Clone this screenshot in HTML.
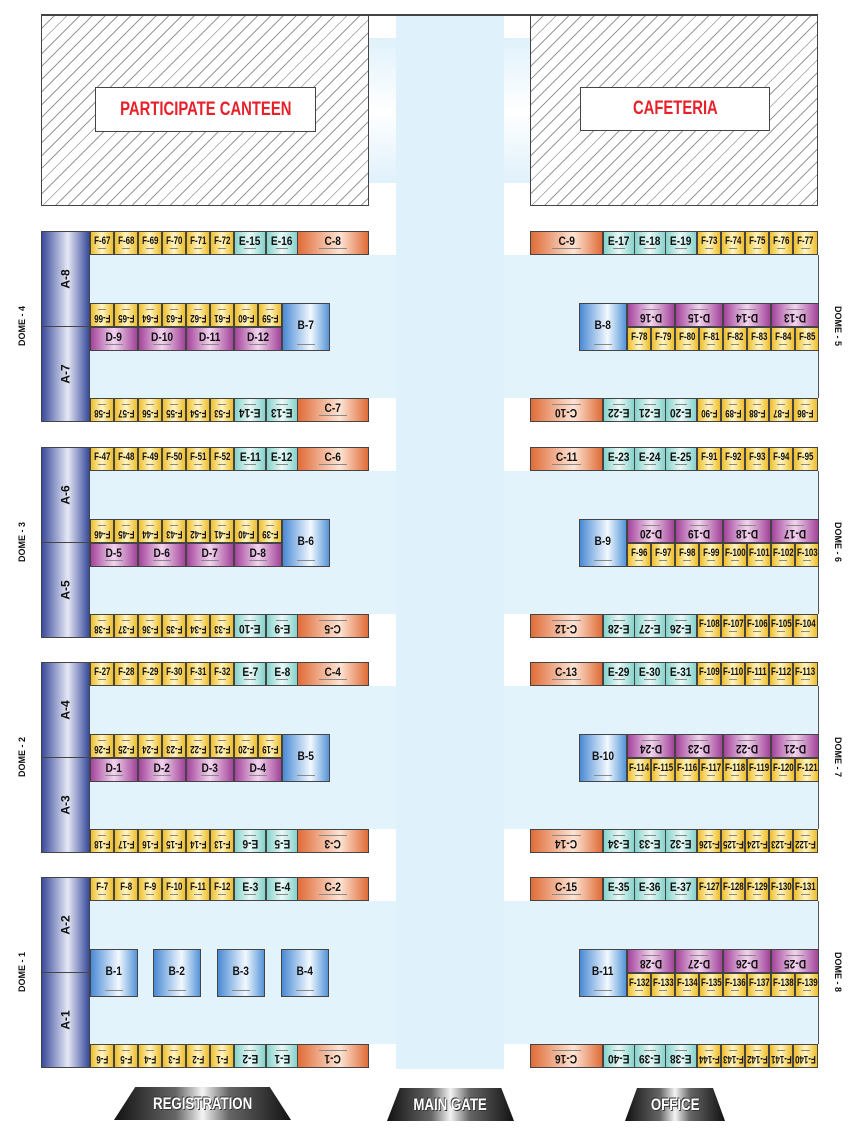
<!DOCTYPE html>
<html><head><meta charset="utf-8"><style>
*{margin:0;padding:0}
body{width:861px;height:1137px;background:#fff;position:relative;overflow:hidden;font-family:"Liberation Sans",sans-serif}
.abs{position:absolute}
.hatch{position:absolute;box-sizing:border-box;border:1.5px solid #444;background:repeating-linear-gradient(135deg,#fff 0 8px,#999 8px 9px)}
.lbl{position:absolute;box-sizing:border-box;border:1.5px solid #444;background:#fff;color:#e8202a;font-weight:bold;font-size:19px;display:flex;align-items:center;justify-content:center}
.lbl span{display:inline-block;transform:scaleX(.78);white-space:nowrap}
.d{position:absolute;width:330px;height:192px}
.band{position:absolute;top:24px;height:143px;background:#e2f3fb}
.c{position:absolute;box-sizing:border-box;border:1px solid #444;display:flex;align-items:center;justify-content:center;font-weight:bold;font-size:12px;color:#111;overflow:hidden;white-space:nowrap;padding-bottom:5px}
.c::after{content:"";position:absolute;left:30%;right:30%;bottom:5px;height:1px;background:#888}
.c span{display:inline-block;transform:scaleX(.85)}
.r{padding-bottom:0;padding-top:5px}
.r::after{bottom:auto;top:5px}
.r span{transform:rotate(180deg) scaleX(.85)}
.F{width:24px;background:linear-gradient(90deg,#eebd2a,#fff5c4 50%,#eebd2a);font-size:11px}
.F span{transform:scaleX(.72)}
.F.r span{transform:rotate(180deg) scaleX(.72)}
.E{width:32px;background:linear-gradient(90deg,#86d2cb,#eaf9f7 50%,#86d2cb)}
.C{width:73px;background:linear-gradient(90deg,#e06c38,#fde4d4 60%,#e06c38)}
.D{width:48px;background:linear-gradient(90deg,#a3449a,#f2d4ee 50%,#a3449a)}
.B{width:48px;height:48px;top:72px;background:linear-gradient(90deg,#4a8ad4,#f2f9ff 60%,#5595d8);font-size:12px}
.A{left:0;width:49px;height:96px;background:linear-gradient(90deg,#3a4c9c,#e6e8f5 55%,#3a4c9c);font-size:12px;padding:0}
.A::after{display:none}
.A span{transform:rotate(-90deg)}
.t{top:0;height:24px}.m1{top:72px;height:24px}.m2{top:96px;height:24px}.bt{top:167px;height:24px}
.dl{position:absolute;font-weight:bold;font-size:9px;width:60px;text-align:center;color:#111}
.trap{position:absolute;height:33px;background:linear-gradient(90deg,#111,#666 35%,#f4f4f4 50%,#666 65%,#111);color:#fff;font-weight:bold;font-size:17px;display:flex;align-items:center;justify-content:center;text-shadow:1px 1px 0 #333,-1px -1px 0 #333}
.trap span{display:inline-block;transform:scaleX(.78);white-space:nowrap}
</style></head><body>

<div class="abs" style="left:369px;top:38px;width:161px;height:145px;background:linear-gradient(#dff1fb,#fff 50%,#dff1fb)"></div>
<div class="abs" style="left:396px;top:15px;width:108px;height:1054px;background:#dff1fb"></div>
<div class="abs" style="left:41px;top:14px;width:777px;height:1.5px;background:#444"></div>

<div class="hatch" style="left:41px;top:15px;width:328px;height:191px"></div>
<div class="lbl" style="left:95px;top:87px;width:221px;height:45px"><span>PARTICIPATE CANTEEN</span></div>
<div class="hatch" style="left:530px;top:15px;width:288px;height:191px"></div>
<div class="lbl" style="left:580px;top:87px;width:190px;height:44px"><span>CAFETERIA</span></div>

<!-- DOME 4 -->
<div class="d" style="left:41px;top:231px">
<div class="band" style="left:49px;width:306px"></div>
<div class="c A" style="top:0"><span>A-8</span></div><div class="c A" style="top:95px"><span>A-7</span></div>
<div class="c F t" style="left:49px"><span>F-67</span></div><div class="c F t" style="left:73px"><span>F-68</span></div><div class="c F t" style="left:97px"><span>F-69</span></div><div class="c F t" style="left:121px"><span>F-70</span></div><div class="c F t" style="left:145px"><span>F-71</span></div><div class="c F t" style="left:169px"><span>F-72</span></div><div class="c E t" style="left:193px"><span>E-15</span></div><div class="c E t" style="left:225px"><span>E-16</span></div><div class="c C t" style="left:256px;width:72px"><span>C-8</span></div>
<div class="c F m1 r" style="left:49px"><span>F-66</span></div><div class="c F m1 r" style="left:73px"><span>F-65</span></div><div class="c F m1 r" style="left:97px"><span>F-64</span></div><div class="c F m1 r" style="left:121px"><span>F-63</span></div><div class="c F m1 r" style="left:145px"><span>F-62</span></div><div class="c F m1 r" style="left:169px"><span>F-61</span></div><div class="c F m1 r" style="left:193px"><span>F-60</span></div><div class="c F m1 r" style="left:217px"><span>F-59</span></div>
<div class="c D m2" style="left:49px"><span>D-9</span></div><div class="c D m2" style="left:97px"><span>D-10</span></div><div class="c D m2" style="left:145px"><span>D-11</span></div><div class="c D m2" style="left:193px"><span>D-12</span></div>
<div class="c B" style="left:241px"><span>B-7</span></div>
<div class="c F bt r" style="left:49px"><span>F-58</span></div><div class="c F bt r" style="left:73px"><span>F-57</span></div><div class="c F bt r" style="left:97px"><span>F-56</span></div><div class="c F bt r" style="left:121px"><span>F-55</span></div><div class="c F bt r" style="left:145px"><span>F-54</span></div><div class="c F bt r" style="left:169px"><span>F-53</span></div><div class="c E bt r" style="left:193px"><span>E-14</span></div><div class="c E bt r" style="left:225px"><span>E-13</span></div><div class="c C bt" style="left:256px;width:72px"><span>C-7</span></div>
</div>

<!-- DOME 3 -->
<div class="d" style="left:41px;top:447px">
<div class="band" style="left:49px;width:306px"></div>
<div class="c A" style="top:0"><span>A-6</span></div><div class="c A" style="top:95px"><span>A-5</span></div>
<div class="c F t" style="left:49px"><span>F-47</span></div><div class="c F t" style="left:73px"><span>F-48</span></div><div class="c F t" style="left:97px"><span>F-49</span></div><div class="c F t" style="left:121px"><span>F-50</span></div><div class="c F t" style="left:145px"><span>F-51</span></div><div class="c F t" style="left:169px"><span>F-52</span></div><div class="c E t" style="left:193px"><span>E-11</span></div><div class="c E t" style="left:225px"><span>E-12</span></div><div class="c C t" style="left:256px;width:72px"><span>C-6</span></div>
<div class="c F m1 r" style="left:49px"><span>F-46</span></div><div class="c F m1 r" style="left:73px"><span>F-45</span></div><div class="c F m1 r" style="left:97px"><span>F-44</span></div><div class="c F m1 r" style="left:121px"><span>F-43</span></div><div class="c F m1 r" style="left:145px"><span>F-42</span></div><div class="c F m1 r" style="left:169px"><span>F-41</span></div><div class="c F m1 r" style="left:193px"><span>F-40</span></div><div class="c F m1 r" style="left:217px"><span>F-39</span></div>
<div class="c D m2" style="left:49px"><span>D-5</span></div><div class="c D m2" style="left:97px"><span>D-6</span></div><div class="c D m2" style="left:145px"><span>D-7</span></div><div class="c D m2" style="left:193px"><span>D-8</span></div>
<div class="c B" style="left:241px"><span>B-6</span></div>
<div class="c F bt r" style="left:49px"><span>F-38</span></div><div class="c F bt r" style="left:73px"><span>F-37</span></div><div class="c F bt r" style="left:97px"><span>F-36</span></div><div class="c F bt r" style="left:121px"><span>F-35</span></div><div class="c F bt r" style="left:145px"><span>F-34</span></div><div class="c F bt r" style="left:169px"><span>F-33</span></div><div class="c E bt r" style="left:193px"><span>E-10</span></div><div class="c E bt r" style="left:225px"><span>E-9</span></div><div class="c C bt r" style="left:256px;width:72px"><span>C-5</span></div>
</div>

<!-- DOME 2 -->
<div class="d" style="left:41px;top:662px">
<div class="band" style="left:49px;width:306px"></div>
<div class="c A" style="top:0"><span>A-4</span></div><div class="c A" style="top:95px"><span>A-3</span></div>
<div class="c F t" style="left:49px"><span>F-27</span></div><div class="c F t" style="left:73px"><span>F-28</span></div><div class="c F t" style="left:97px"><span>F-29</span></div><div class="c F t" style="left:121px"><span>F-30</span></div><div class="c F t" style="left:145px"><span>F-31</span></div><div class="c F t" style="left:169px"><span>F-32</span></div><div class="c E t" style="left:193px"><span>E-7</span></div><div class="c E t" style="left:225px"><span>E-8</span></div><div class="c C t" style="left:256px;width:72px"><span>C-4</span></div>
<div class="c F m1 r" style="left:49px"><span>F-26</span></div><div class="c F m1 r" style="left:73px"><span>F-25</span></div><div class="c F m1 r" style="left:97px"><span>F-24</span></div><div class="c F m1 r" style="left:121px"><span>F-23</span></div><div class="c F m1 r" style="left:145px"><span>F-22</span></div><div class="c F m1 r" style="left:169px"><span>F-21</span></div><div class="c F m1 r" style="left:193px"><span>F-20</span></div><div class="c F m1 r" style="left:217px"><span>F-19</span></div>
<div class="c D m2" style="left:49px"><span>D-1</span></div><div class="c D m2" style="left:97px"><span>D-2</span></div><div class="c D m2" style="left:145px"><span>D-3</span></div><div class="c D m2" style="left:193px"><span>D-4</span></div>
<div class="c B" style="left:241px"><span>B-5</span></div>
<div class="c F bt r" style="left:49px"><span>F-18</span></div><div class="c F bt r" style="left:73px"><span>F-17</span></div><div class="c F bt r" style="left:97px"><span>F-16</span></div><div class="c F bt r" style="left:121px"><span>F-15</span></div><div class="c F bt r" style="left:145px"><span>F-14</span></div><div class="c F bt r" style="left:169px"><span>F-13</span></div><div class="c E bt r" style="left:193px"><span>E-6</span></div><div class="c E bt r" style="left:225px"><span>E-5</span></div><div class="c C bt r" style="left:256px;width:72px"><span>C-3</span></div>
</div>

<!-- DOME 1 -->
<div class="d" style="left:41px;top:877px">
<div class="band" style="left:49px;width:306px"></div>
<div class="c A" style="top:0"><span>A-2</span></div><div class="c A" style="top:95px"><span>A-1</span></div>
<div class="c F t" style="left:49px"><span>F-7</span></div><div class="c F t" style="left:73px"><span>F-8</span></div><div class="c F t" style="left:97px"><span>F-9</span></div><div class="c F t" style="left:121px"><span>F-10</span></div><div class="c F t" style="left:145px"><span>F-11</span></div><div class="c F t" style="left:169px"><span>F-12</span></div><div class="c E t" style="left:193px"><span>E-3</span></div><div class="c E t" style="left:225px"><span>E-4</span></div><div class="c C t" style="left:256px;width:72px"><span>C-2</span></div>
<div class="c B" style="left:49px"><span>B-1</span></div><div class="c B" style="left:112px"><span>B-2</span></div><div class="c B" style="left:176px"><span>B-3</span></div><div class="c B" style="left:240px"><span>B-4</span></div>
<div class="c F bt r" style="left:49px"><span>F-6</span></div><div class="c F bt r" style="left:73px"><span>F-5</span></div><div class="c F bt r" style="left:97px"><span>F-4</span></div><div class="c F bt r" style="left:121px"><span>F-3</span></div><div class="c F bt r" style="left:145px"><span>F-2</span></div><div class="c F bt r" style="left:169px"><span>F-1</span></div><div class="c E bt r" style="left:193px"><span>E-2</span></div><div class="c E bt r" style="left:225px"><span>E-1</span></div><div class="c C bt r" style="left:256px;width:72px"><span>C-1</span></div>
</div>

<!-- DOME 5 -->
<div class="d" style="left:530px;top:231px">
<div class="band" style="left:-26px;width:314px;border-right:1.5px solid #555"></div>
<div class="c C t" style="left:0"><span>C-9</span></div><div class="c E t" style="left:73px"><span>E-17</span></div><div class="c E t" style="left:104px"><span>E-18</span></div><div class="c E t" style="left:135px"><span>E-19</span></div><div class="c F t" style="left:167px"><span>F-73</span></div><div class="c F t" style="left:191px"><span>F-74</span></div><div class="c F t" style="left:215px"><span>F-75</span></div><div class="c F t" style="left:239px"><span>F-76</span></div><div class="c F t" style="left:263px;width:25px"><span>F-77</span></div>
<div class="c B" style="left:49px"><span>B-8</span></div>
<div class="c D m1 r" style="left:97px"><span>D-16</span></div><div class="c D m1 r" style="left:145px"><span>D-15</span></div><div class="c D m1 r" style="left:193px"><span>D-14</span></div><div class="c D m1 r" style="left:241px"><span>D-13</span></div>
<div class="c F m2" style="left:97px"><span>F-78</span></div><div class="c F m2" style="left:121px"><span>F-79</span></div><div class="c F m2" style="left:145px"><span>F-80</span></div><div class="c F m2" style="left:169px"><span>F-81</span></div><div class="c F m2" style="left:193px"><span>F-82</span></div><div class="c F m2" style="left:217px"><span>F-83</span></div><div class="c F m2" style="left:241px"><span>F-84</span></div><div class="c F m2" style="left:265px"><span>F-85</span></div>
<div class="c C bt r" style="left:0"><span>C-10</span></div><div class="c E bt r" style="left:73px"><span>E-22</span></div><div class="c E bt r" style="left:104px"><span>E-21</span></div><div class="c E bt r" style="left:135px"><span>E-20</span></div><div class="c F bt r" style="left:167px"><span>F-90</span></div><div class="c F bt r" style="left:191px"><span>F-89</span></div><div class="c F bt r" style="left:215px"><span>F-88</span></div><div class="c F bt r" style="left:239px"><span>F-87</span></div><div class="c F bt r" style="left:263px;width:25px"><span>F-86</span></div>
</div>

<!-- DOME 6 -->
<div class="d" style="left:530px;top:447px">
<div class="band" style="left:-26px;width:314px;border-right:1.5px solid #555"></div>
<div class="c C t" style="left:0"><span>C-11</span></div><div class="c E t" style="left:73px"><span>E-23</span></div><div class="c E t" style="left:104px"><span>E-24</span></div><div class="c E t" style="left:135px"><span>E-25</span></div><div class="c F t" style="left:167px"><span>F-91</span></div><div class="c F t" style="left:191px"><span>F-92</span></div><div class="c F t" style="left:215px"><span>F-93</span></div><div class="c F t" style="left:239px"><span>F-94</span></div><div class="c F t" style="left:263px;width:25px"><span>F-95</span></div>
<div class="c B" style="left:49px"><span>B-9</span></div>
<div class="c D m1 r" style="left:97px"><span>D-20</span></div><div class="c D m1 r" style="left:145px"><span>D-19</span></div><div class="c D m1 r" style="left:193px"><span>D-18</span></div><div class="c D m1 r" style="left:241px"><span>D-17</span></div>
<div class="c F m2" style="left:97px"><span>F-96</span></div><div class="c F m2" style="left:121px"><span>F-97</span></div><div class="c F m2" style="left:145px"><span>F-98</span></div><div class="c F m2" style="left:169px"><span>F-99</span></div><div class="c F m2" style="left:193px"><span>F-100</span></div><div class="c F m2" style="left:217px"><span>F-101</span></div><div class="c F m2" style="left:241px"><span>F-102</span></div><div class="c F m2" style="left:265px"><span>F-103</span></div>
<div class="c C bt r" style="left:0"><span>C-12</span></div><div class="c E bt r" style="left:73px"><span>E-28</span></div><div class="c E bt r" style="left:104px"><span>E-27</span></div><div class="c E bt r" style="left:135px"><span>E-26</span></div><div class="c F bt" style="left:167px"><span>F-108</span></div><div class="c F bt" style="left:191px"><span>F-107</span></div><div class="c F bt" style="left:215px"><span>F-106</span></div><div class="c F bt" style="left:239px"><span>F-105</span></div><div class="c F bt" style="left:263px;width:25px"><span>F-104</span></div>
</div>

<!-- DOME 7 -->
<div class="d" style="left:530px;top:662px">
<div class="band" style="left:-26px;width:314px;border-right:1.5px solid #555"></div>
<div class="c C t" style="left:0"><span>C-13</span></div><div class="c E t" style="left:73px"><span>E-29</span></div><div class="c E t" style="left:104px"><span>E-30</span></div><div class="c E t" style="left:135px"><span>E-31</span></div><div class="c F t" style="left:167px"><span>F-109</span></div><div class="c F t" style="left:191px"><span>F-110</span></div><div class="c F t" style="left:215px"><span>F-111</span></div><div class="c F t" style="left:239px"><span>F-112</span></div><div class="c F t" style="left:263px;width:25px"><span>F-113</span></div>
<div class="c B" style="left:49px"><span>B-10</span></div>
<div class="c D m1 r" style="left:97px"><span>D-24</span></div><div class="c D m1 r" style="left:145px"><span>D-23</span></div><div class="c D m1 r" style="left:193px"><span>D-22</span></div><div class="c D m1 r" style="left:241px"><span>D-21</span></div>
<div class="c F m2" style="left:97px"><span>F-114</span></div><div class="c F m2" style="left:121px"><span>F-115</span></div><div class="c F m2" style="left:145px"><span>F-116</span></div><div class="c F m2" style="left:169px"><span>F-117</span></div><div class="c F m2" style="left:193px"><span>F-118</span></div><div class="c F m2" style="left:217px"><span>F-119</span></div><div class="c F m2" style="left:241px"><span>F-120</span></div><div class="c F m2" style="left:265px"><span>F-121</span></div>
<div class="c C bt r" style="left:0"><span>C-14</span></div><div class="c E bt r" style="left:73px"><span>E-34</span></div><div class="c E bt r" style="left:104px"><span>E-33</span></div><div class="c E bt r" style="left:135px"><span>E-32</span></div><div class="c F bt r" style="left:167px"><span>F-126</span></div><div class="c F bt r" style="left:191px"><span>F-125</span></div><div class="c F bt r" style="left:215px"><span>F-124</span></div><div class="c F bt r" style="left:239px"><span>F-123</span></div><div class="c F bt r" style="left:263px;width:25px"><span>F-122</span></div>
</div>

<!-- DOME 8 -->
<div class="d" style="left:530px;top:877px">
<div class="band" style="left:-26px;width:314px;border-right:1.5px solid #555"></div>
<div class="c C t" style="left:0"><span>C-15</span></div><div class="c E t" style="left:73px"><span>E-35</span></div><div class="c E t" style="left:104px"><span>E-36</span></div><div class="c E t" style="left:135px"><span>E-37</span></div><div class="c F t" style="left:167px"><span>F-127</span></div><div class="c F t" style="left:191px"><span>F-128</span></div><div class="c F t" style="left:215px"><span>F-129</span></div><div class="c F t" style="left:239px"><span>F-130</span></div><div class="c F t" style="left:263px;width:25px"><span>F-131</span></div>
<div class="c B" style="left:49px"><span>B-11</span></div>
<div class="c D m1 r" style="left:97px"><span>D-28</span></div><div class="c D m1 r" style="left:145px"><span>D-27</span></div><div class="c D m1 r" style="left:193px"><span>D-26</span></div><div class="c D m1 r" style="left:241px"><span>D-25</span></div>
<div class="c F m2" style="left:97px"><span>F-132</span></div><div class="c F m2" style="left:121px"><span>F-133</span></div><div class="c F m2" style="left:145px"><span>F-134</span></div><div class="c F m2" style="left:169px"><span>F-135</span></div><div class="c F m2" style="left:193px"><span>F-136</span></div><div class="c F m2" style="left:217px"><span>F-137</span></div><div class="c F m2" style="left:241px"><span>F-138</span></div><div class="c F m2" style="left:265px"><span>F-139</span></div>
<div class="c C bt r" style="left:0"><span>C-16</span></div><div class="c E bt r" style="left:73px"><span>E-40</span></div><div class="c E bt r" style="left:104px"><span>E-39</span></div><div class="c E bt r" style="left:135px"><span>E-38</span></div><div class="c F bt r" style="left:167px"><span>F-144</span></div><div class="c F bt r" style="left:191px"><span>F-143</span></div><div class="c F bt r" style="left:215px"><span>F-142</span></div><div class="c F bt r" style="left:239px"><span>F-141</span></div><div class="c F bt r" style="left:263px;width:25px"><span>F-140</span></div>
</div>

<!-- dome labels -->
<div class="dl" style="left:-8px;top:321px;transform:rotate(-90deg)">DOME - 4</div>
<div class="dl" style="left:-8px;top:537px;transform:rotate(-90deg)">DOME - 3</div>
<div class="dl" style="left:-8px;top:752px;transform:rotate(-90deg)">DOME - 2</div>
<div class="dl" style="left:-8px;top:967px;transform:rotate(-90deg)">DOME - 1</div>
<div class="dl" style="left:808px;top:321px;transform:rotate(90deg)">DOME - 5</div>
<div class="dl" style="left:808px;top:537px;transform:rotate(90deg)">DOME - 6</div>
<div class="dl" style="left:808px;top:752px;transform:rotate(90deg)">DOME - 7</div>
<div class="dl" style="left:808px;top:967px;transform:rotate(90deg)">DOME - 8</div>

<!-- bottom labels -->
<div class="trap" style="left:114px;top:1087px;width:177px;clip-path:polygon(12% 0,88% 0,100% 100%,0 100%)"><span>REGISTRATION</span></div>
<div class="trap" style="left:387px;top:1088px;width:127px;clip-path:polygon(10% 0,90% 0,100% 100%,0 100%)"><span>MAIN GATE</span></div>
<div class="trap" style="left:625px;top:1088px;width:100px;clip-path:polygon(12% 0,88% 0,100% 100%,0 100%)"><span>OFFICE</span></div>
</body></html>
